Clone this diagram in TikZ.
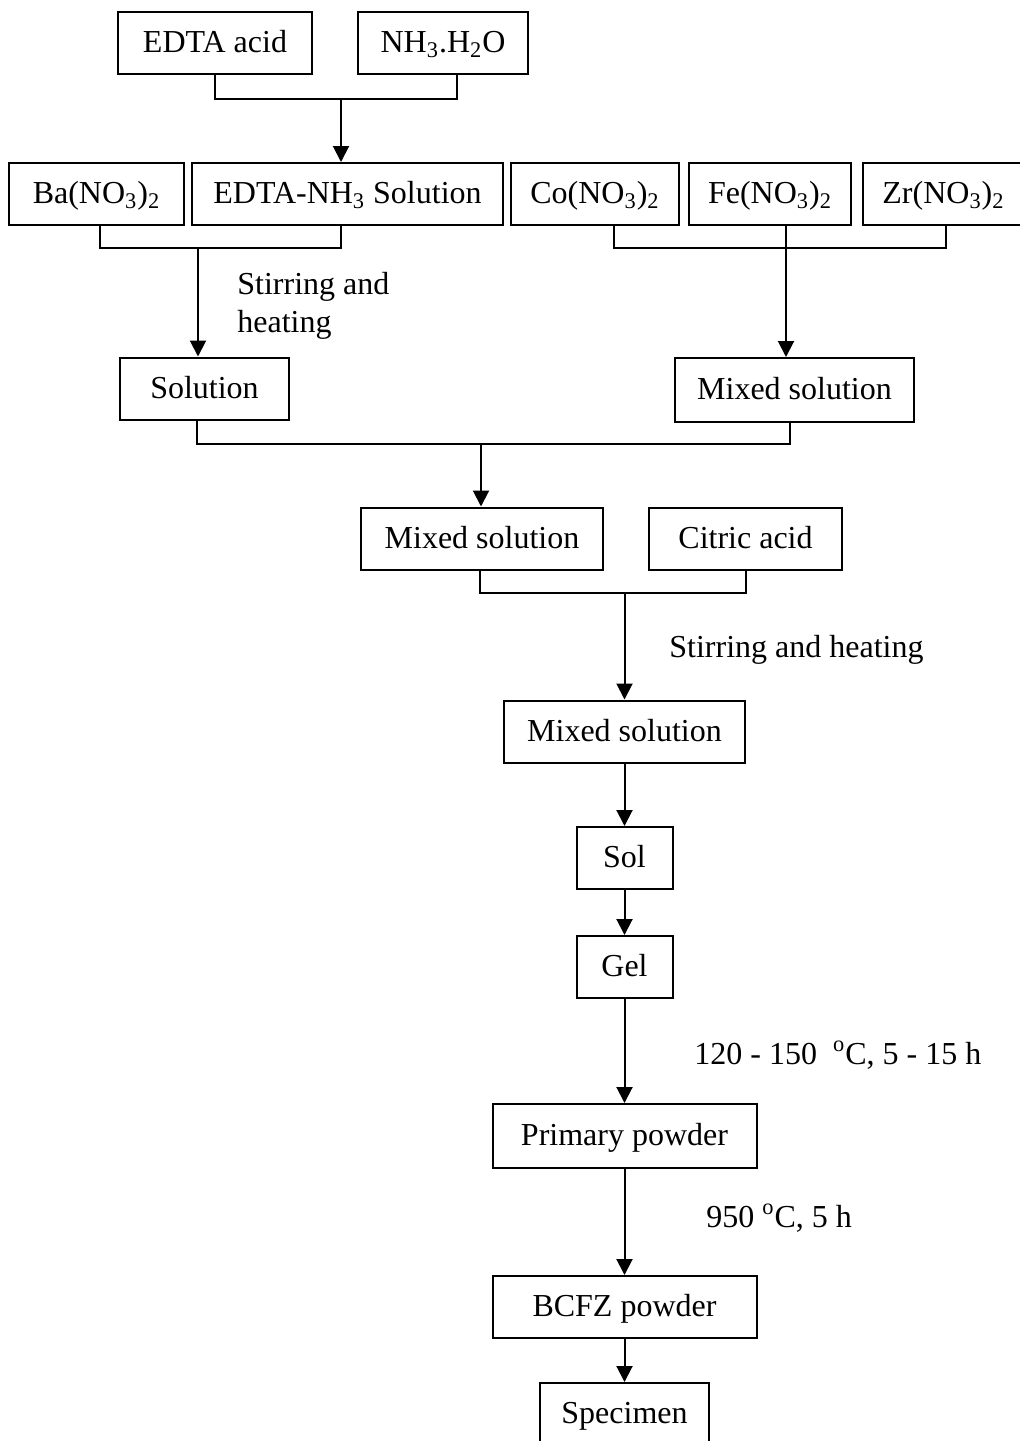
\documentclass[tikz,border=0pt]{standalone}
\usepackage{fontspec}
\setmainfont{Liberation Serif}
\usetikzlibrary{arrows.meta}
\tikzset{box/.style={draw,line width=1pt,minimum height=31pt,inner sep=0pt,text height=13pt,text depth=3.5pt},
    flow/.style={line width=1pt},
    arr/.style={flow,-{Triangle[width=8pt,length=8pt]}},
    lbl/.style={anchor=west,align=left,inner sep=0pt}}
\begin{document}
\begin{tikzpicture}[x=0.5pt,y=-0.5pt,font=\fontsize{16}{19}\selectfont]
    \useasboundingbox (0,0) rectangle (1020,1441);
    \draw (215,43) node(edta) [box,minimum width=97pt] {EDTA acid}
        (443,43) node(nh) [box,minimum width=85pt] {NH\textsubscript{3}.H\textsubscript{2}O}
        (96.5,194) node(ba) [box,minimum width=87.5pt] {Ba(NO\textsubscript{3})\textsubscript{2}}
        (347.5,194) node(en) [box,minimum width=155.5pt] {EDTA-NH\textsubscript{3} Solution}
        (595,194) node(co) [box,minimum width=84pt] {Co(NO\textsubscript{3})\textsubscript{2}}
        (770,194) node(fe) [box,minimum width=81pt] {Fe(NO\textsubscript{3})\textsubscript{2}}
        (943.5,194) node(zr) [box,minimum width=80.5pt] {Zr(NO\textsubscript{3})\textsubscript{2}}
        (204.5,388.5) node(sol1) [box,minimum width=84.5pt] {Solution}
        (794.5,390) node(mix1) [box,minimum width=119.5pt,minimum height=32pt] {Mixed solution}
        (482,538.5) node(mix2) [box,minimum width=121pt] {Mixed solution}
        (745.5,538.5) node(cit) [box,minimum width=96.5pt] {Citric acid}
        (624.5,731.5) node(mix3) [box,minimum width=120.5pt] {Mixed solution}
        (624.5,858) node(sol) [box,minimum width=48pt] {Sol}
        (624.5,967) node(gel) [box,minimum width=48pt] {Gel}
        (624.5,1136) node(prim) [box,minimum width=132pt,minimum height=32pt] {Primary powder}
        (624.5,1307) node(bcfz) [box,minimum width=132pt] {BCFZ powder}
        (624.5,1414) node(spec) [box,minimum width=84.5pt] {Specimen};
    \node[lbl] (stir1) at (237,306) {Stirring and\\heating};
    \node[lbl] (stir2) at (669,650) {Stirring and heating};
    \node[lbl] (dry) at (694,1055) {120 - 150~ \textsuperscript{o}C, 5 - 15 h};
    \node[lbl] (calc) at (706,1218) {950 \textsuperscript{o}C, 5 h};
    \coordinate (j1) at (341,99);
    \coordinate (j2) at (198,248);
    \coordinate (j3) at (786,248);
    \coordinate (j4) at (481,444);
    \coordinate (j5) at (624.5,593);
    \draw[flow] (edta.south) |- (j1) -| ([xshift=7pt]nh.south);
    \draw[arr] (j1) -- (j1 |- en.north);
    \draw[flow] ([xshift=1.75pt]ba.south) |- (j2) -| ([xshift=-3.25pt]en.south);
    \draw[arr] (j2) -- (j2 |- sol1.north);
    \draw[flow] ([xshift=9.5pt]co.south) |- (j3) -| ([xshift=1.25pt]zr.south);
    \draw[arr] ([xshift=8pt]fe.south) -- (j3 |- mix1.north);
    \draw[flow] ([xshift=-3.75pt]sol1.south) |- (j4) -| ([xshift=-2.25pt]mix1.south);
    \draw[arr] (j4) -- (j4 |- mix2.north);
    \draw[flow] ([xshift=-1pt]mix2.south) |- (j5) -| (cit.south);
    \draw[arr] (j5) -- (j5 |- mix3.north);
    \draw[arr] (mix3.south) -- (sol.north);
    \draw[arr] (sol.south) -- (gel.north);
    \draw[arr] (gel.south) -- (prim.north);
    \draw[arr] (prim.south) -- (bcfz.north);
    \draw[arr] (bcfz.south) -- (spec.north);
\end{tikzpicture}
\end{document}
